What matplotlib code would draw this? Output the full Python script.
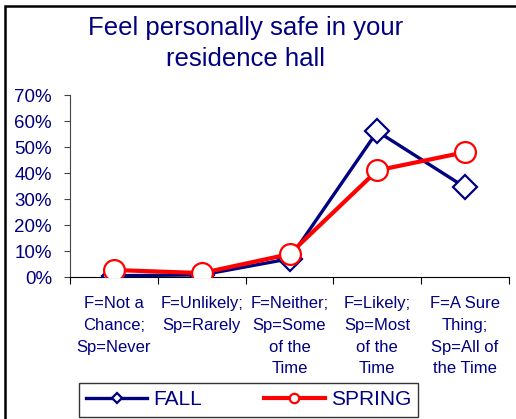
import matplotlib.pyplot as plt
from matplotlib.patches import Rectangle
from matplotlib.ticker import PercentFormatter

plt.rcParams['font.family'] = ['Liberation Sans', 'DejaVu Sans']

NAVY = '#000080'
RED = '#FF0000'

categories = ['F=Not a\nChance;\nSp=Never',
              'F=Unlikely;\nSp=Rarely',
              'F=Neither;\nSp=Some\nof the\nTime',
              'F=Likely;\nSp=Most\nof the\nTime',
              'F=A Sure\nThing;\nSp=All of\nthe Time']
fall = [0.5, 0.8, 7.0, 56.0, 34.5]
spring = [2.7, 1.5, 8.8, 41.0, 48.0]
y_ticks = [0, 10, 20, 30, 40, 50, 60, 70]

fig = plt.figure(figsize=(5.16, 4.19), dpi=100)
ax = fig.add_axes([70 / 516, 1 - 277 / 419, 439 / 516, 182 / 419])

x = list(range(len(categories)))
ax.plot(x, fall, color=NAVY, lw=2.4, marker='D', ms=12, mfc='white',
        mec=NAVY, mew=1.6, label='FALL', zorder=3)
ax.plot(x, spring, color=RED, lw=3.0, marker='o', ms=15, mfc='white',
        mec=RED, mew=1.6, label='SPRING', zorder=4)

ax.set_xlim(-0.5, len(categories) - 0.5)
ax.set_ylim(0, 70)
ax.set_yticks(y_ticks)
ax.yaxis.set_major_formatter(PercentFormatter(decimals=0))
ax.tick_params(axis='y', labelsize=13.5, labelcolor=NAVY, length=4,
               direction='out', pad=9, color='#444444')

ax.set_xticks([i - 0.5 for i in range(len(categories) + 1)])
ax.set_xticklabels([])
ax.set_xticks(x, minor=True)
ax.set_xticklabels(categories, minor=True, fontsize=12, color=NAVY,
                   linespacing=1.55)
ax.tick_params(axis='x', which='major', length=5, direction='out')
ax.tick_params(axis='x', which='minor', length=0, pad=14)

for s in ['top', 'right']:
    ax.spines[s].set_visible(False)
ax.spines['left'].set_color('#444444')

fig.text(0.475, 1 - 16 / 419, 'Feel personally safe in your\nresidence hall',
         ha='center', va='top', fontsize=18.5, color=NAVY, linespacing=1.38)

leg = fig.legend(loc='upper left', bbox_to_anchor=(79 / 516, 1 - 383 / 419),
                 ncol=2, fontsize=15, frameon=True, fancybox=False,
                 edgecolor='black', markerscale=0.45, handlelength=2.9,
                 handletextpad=0.3, columnspacing=3.0, borderpad=0.35,
                 borderaxespad=0, labelcolor=NAVY)
leg.get_frame().set_linewidth(1.0)

fig.add_artist(Rectangle((5 / 516, -0.1), 1.2, 1.1 - 6 / 419,
                         transform=fig.transFigure, fill=False,
                         edgecolor='black', lw=1.8))

fig.savefig('out.png', dpi=100)
